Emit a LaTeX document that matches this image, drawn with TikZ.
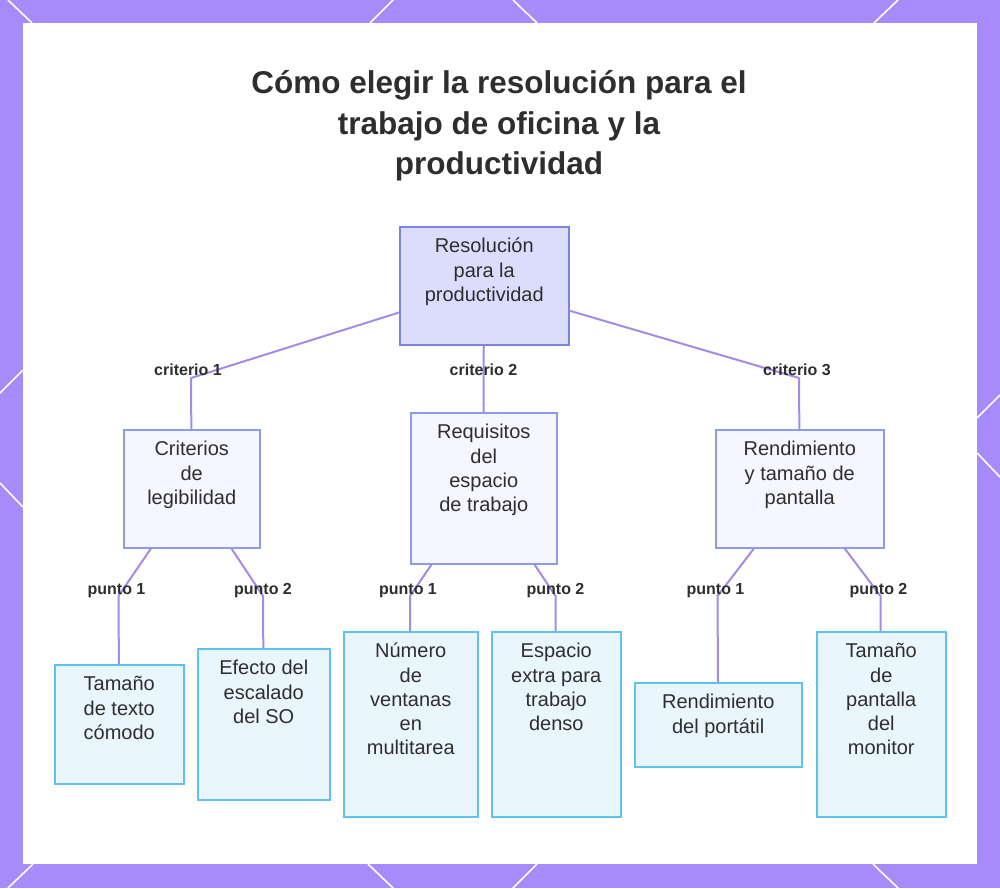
\documentclass[tikz,border=0pt]{standalone}
\usepackage{fontspec}
\setmainfont{Liberation Sans}
\usetikzlibrary{positioning}

\definecolor{frame}{HTML}{A78BFA}
\definecolor{ink}{HTML}{2E2E2E}
\definecolor{rootfill}{HTML}{DCDCFC}
\definecolor{rootline}{HTML}{7C83DB}
\definecolor{midfill}{HTML}{F5F6FF}
\definecolor{midline}{HTML}{8D9BEB}
\definecolor{leaffill}{HTML}{EAF6FE}
\definecolor{leafline}{HTML}{5EC2EA}
\definecolor{wirecol}{HTML}{A58AE6}

\begin{document}
\begin{tikzpicture}[
        x = 1pt, y = -1pt,
        box/.style 2 args = {draw, line width = 1.5pt, inner sep = 0pt, anchor = north west,
            text = ink, font = \fontsize{20}{24.3}\selectfont,
            execute at begin node = {\begin{minipage}[c][#2pt][t]{#1pt}\centering\vspace*{9pt}\strut},
            execute at end node = {\end{minipage}}},
        rootbox/.style = {draw = rootline, fill = rootfill},
        midbox/.style = {draw = midline, fill = midfill},
        leafbox/.style = {draw = leafline, fill = leaffill},
        wire/.style = {draw = wirecol, line width = 2pt, line join = round},
        tag/.style = {inner sep = 2pt, text = ink, font = \bfseries\fontsize{16}{19}\selectfont},
        notch/.style = {draw = white, line width = 1.6pt}
    ]

    % frame and panel
    \useasboundingbox (0,0) rectangle (1000,888);
    \fill[frame] (0,0) rectangle (1000,888);
    \fill[white] (23,23) rectangle (977,864);
    \draw[notch] (8,0) -- (32,23);
    \draw[notch] (393,0) -- (370,23);
    \draw[notch] (513,0) -- (537,23);
    \draw[notch] (898,0) -- (874,23);
    \draw[notch] (0,393) -- (23,370);
    \draw[notch] (0,483) -- (23,507);
    \draw[notch] (977,418) -- (1000,395);
    \draw[notch] (977,453) -- (1000,477);
    \draw[notch] (33,864) -- (8,888);
    \draw[notch] (368,864) -- (393,888);
    \draw[notch] (537,864) -- (513,888);
    \draw[notch] (873,864) -- (898,888);

    % title
    \node[align = center, text = ink, font = \bfseries\fontsize{31.5}{40.5}\selectfont] (title) at (499,126)
        {Cómo elegir la resolución para el\\trabajo de oficina y la\\productividad};

    % bends
    \coordinate (c1) at (191,378);
    \coordinate (c2) at (483.5,378);
    \coordinate (c3) at (799,378);
    \coordinate (p1) at (118.5,596);
    \coordinate (p2) at (263,596);
    \coordinate (p3) at (410,596);
    \coordinate (p4) at (555.5,596);
    \coordinate (p5) at (717.5,596);
    \coordinate (p6) at (880.5,596);

    % boxes
    \node[box = {169}{118}, rootbox] (root) at (399,226) {Resolución\\para la\\productividad};

    \node[box = {136}{118}, midbox] (legib) at (123,429) {Criterios\\de\\legibilidad};
    \node[box = {146}{151}, midbox] (requis) at (410,412) {Requisitos\\del\\espacio\\de trabajo};
    \node[box = {168}{118}, midbox] (rendim) at (715,429) {Rendimiento\\y tamaño de\\pantalla};

    \node[box = {129}{119}, leafbox] (texto) at (54,664) {Tamaño\\de texto\\cómodo};
    \node[box = {132}{151}, leafbox] (escala) at (197,648) {Efecto del\\escalado\\del SO};
    \node[box = {134}{185}, leafbox] (ventanas) at (343,631) {Número\\de\\ventanas\\en\\multitarea};
    \node[box = {129}{185}, leafbox] (espacio) at (491,631) {Espacio\\extra para\\trabajo\\denso};
    \node[box = {167}{84}, leafbox] (portatil) at (634,682) {Rendimiento\\del portátil};
    \node[box = {129}{185}, leafbox] (monitor) at (816,631) {Tamaño\\de\\pantalla\\del\\monitor};

    % connectors
    \path[wire] (root) -- (c1) -- (legib);
    \path[wire] (root) -- (c2) -- (requis);
    \path[wire] (root) -- (c3) -- (rendim);
    \path[wire] (legib) -- (p1) -- (texto);
    \path[wire] (legib) -- (p2) -- (escala);
    \path[wire] (requis) -- (p3) -- (ventanas);
    \path[wire] (requis) -- (p4) -- (espacio);
    \path[wire] (rendim) -- (p5) -- (portatil);
    \path[wire] (rendim) -- (p6) -- (monitor);

    % labels
    \node[tag, above = 0pt of c1, xshift = -3pt] (t1) {criterio 1};
    \node[tag, above = 0pt of c2] (t2) {criterio 2};
    \node[tag, above = 0pt of c3, xshift = -2pt] (t3) {criterio 3};
    \node[tag, above = -4pt of p1, xshift = -2pt] (t4) {punto 1};
    \node[tag, above = -4pt of p2] (t5) {punto 2};
    \node[tag, above = -4pt of p3, xshift = -2pt] (t6) {punto 1};
    \node[tag, above = -4pt of p4] (t7) {punto 2};
    \node[tag, above = -4pt of p5, xshift = -2pt] (t8) {punto 1};
    \node[tag, above = -4pt of p6, xshift = -2pt] (t9) {punto 2};

\end{tikzpicture}
\end{document}
